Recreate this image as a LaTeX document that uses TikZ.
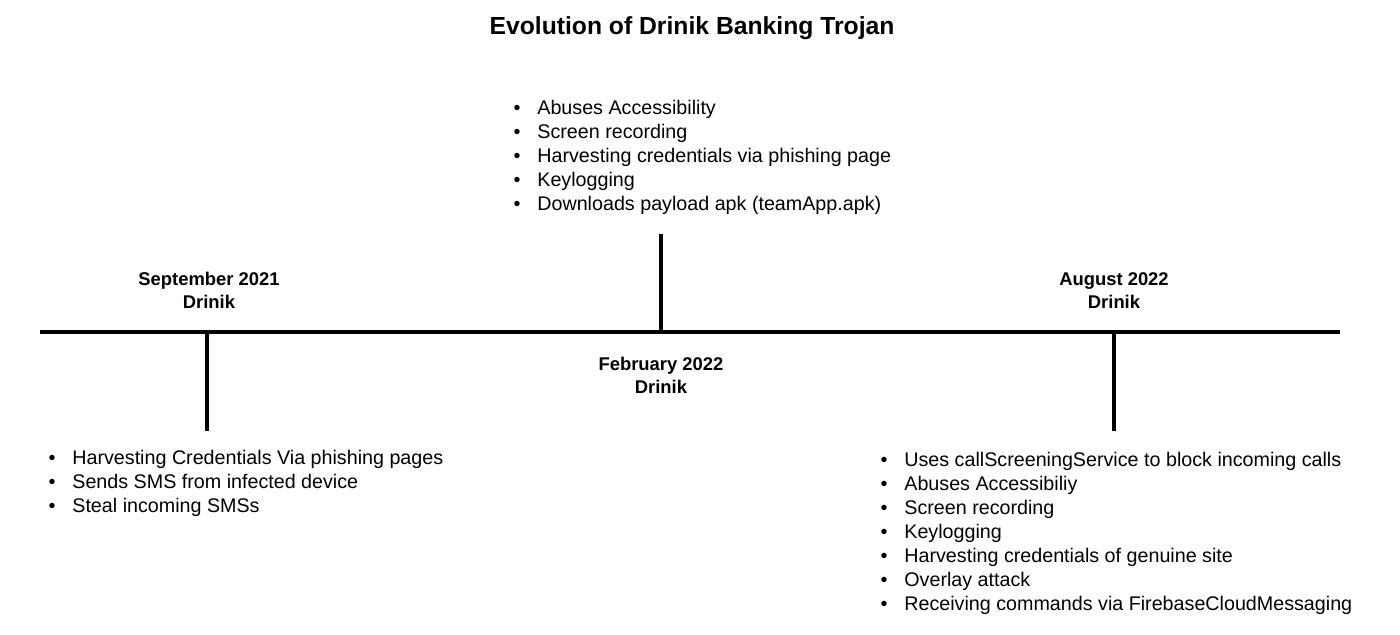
\documentclass[tikz,border=0pt]{standalone}
\usepackage{fontspec}
\setmainfont{Liberation Sans}
\usepackage{tikz}
\usetikzlibrary{positioning}

\tikzset{
  axis/.style={line width=2pt},
  tick/.style={line width=1.6pt},
  datelbl/.style={font=\fontsize{9.2}{11.5}\bfseries\selectfont, align=center, inner sep=0pt},
  item/.style={font=\fontsize{9.85}{12}\selectfont, anchor=base west, inner sep=0pt},
  heading/.style={font=\fontsize{12.35}{14}\bfseries\selectfont, inner sep=0pt}
}
\newcommand{\itm}[1]{\llap{\textbullet\hspace{8.5pt}}#1}

\begin{document}
\begin{tikzpicture}[x=0.5pt,y=-0.5pt]
\useasboundingbox (0,0) rectangle (1400,635);

\node[heading] (title) at (692,28) {Evolution of Drinik Banking Trojan};

% timeline
\coordinate (axL) at (40,332); \coordinate (axR) at (1340,332);
\draw[axis] (axL) -- (axR);

\coordinate (sepA) at (207,332); \coordinate (sepB) at (207,431);
\coordinate (febA) at (661,332); \coordinate (febB) at (661,234);
\coordinate (augA) at (1114,332); \coordinate (augB) at (1114,431);
\draw[tick] (sepA) -- (sepB); \draw[tick] (febA) -- (febB); \draw[tick] (augA) -- (augB);

\node[datelbl] (sep) at (209,289) {\strut September 2021\\Drinik};
\node[datelbl] (feb) at (661,374) {\strut February 2022\\Drinik};
\node[datelbl] (aug) at (1114,289) {\strut August 2022\\Drinik};

% lists
\foreach \t [count=\i from 0] in {{Abuses Accessibility},{Screen recording},{Harvesting credentials via phishing page},{Keylogging},{Downloads payload apk (teamApp.apk)}}
  \node[item] (feb\i) at (537,115+24*\i) {\itm{\t}};

\foreach \t [count=\i from 0] in {{Harvesting Credentials Via phishing pages},{Sends SMS from infected device},{Steal incoming SMSs}}
  \node[item] (sep\i) at (72,464+24*\i) {\itm{\t}};

\foreach \t [count=\i from 0] in {{Uses callScreeningService to block incoming calls},{Abuses Accessibiliy},{Screen recording},{Keylogging},{Harvesting credentials of genuine site},{Overlay attack},{Receiving commands via FirebaseCloudMessaging}}
  \node[item] (aug\i) at (904,466+24*\i) {\itm{\t}};

\end{tikzpicture}
\end{document}
